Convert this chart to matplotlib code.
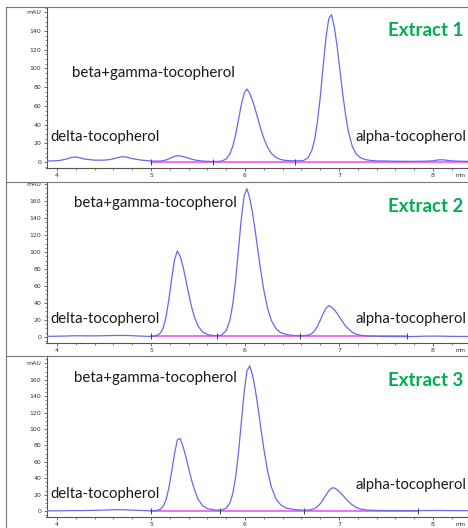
import matplotlib.pyplot as plt
from matplotlib.ticker import MultipleLocator, FixedLocator

# retention time grid (min), shared by the three chromatograms
t = [3.88, 3.95, 4.0, 4.05, 4.1, 4.15, 4.2, 4.25, 4.3, 4.4,
     4.5, 4.55, 4.6, 4.65, 4.7, 4.75, 4.8, 4.9, 5.0, 5.05,
     5.1, 5.13, 5.16, 5.19, 5.22, 5.25, 5.28, 5.31, 5.34, 5.37,
     5.40, 5.43, 5.46, 5.50, 5.55, 5.60, 5.65, 5.70, 5.75, 5.80,
     5.84, 5.87, 5.90, 5.93, 5.96, 5.99, 6.02, 6.05, 6.08, 6.11,
     6.14, 6.17, 6.20, 6.24, 6.28, 6.33, 6.38, 6.44, 6.50, 6.56,
     6.62, 6.67, 6.71, 6.74, 6.77, 6.80, 6.83, 6.86, 6.89, 6.92,
     6.95, 6.98, 7.01, 7.04, 7.07, 7.10, 7.14, 7.18, 7.23, 7.28,
     7.34, 7.40, 7.50, 7.60, 7.70, 7.80, 7.90, 8.00, 8.05, 8.10,
     8.15, 8.20, 8.30, 8.37]

# signal (mAU)
extract1 = [1.0, 1.2, 1.4, 2.0, 3.2, 4.8, 5.4, 4.3, 3.0, 2.0,
            2.0, 2.5, 3.5, 4.8, 5.8, 5.0, 3.6, 2.0, 1.1, 0.9,
            1.1, 1.5, 2.2, 3.4, 4.8, 6.0, 6.7, 6.5, 5.8, 5.0,
            4.1, 3.1, 2.3, 1.6, 1.0, 0.7, 0.6, 0.5, 1.0, 3.2,
            8.7, 16.9, 29.1, 44.8, 61.0, 73.4, 78.0, 73.3, 65.6, 55.8,
            45.1, 34.6, 25.3, 15.6, 9.2, 4.8, 2.6, 1.6, 1.3, 1.3,
            1.5, 4.5, 12.2, 23.5, 43.0, 69.1, 101.1, 131.9, 152.8, 157.4,
            144.3, 123.3, 97.7, 72.3, 50.1, 32.2, 17.1, 8.9, 4.5, 2.6,
            1.6, 1.2, 1.0, 0.8, 0.7, 0.7, 0.8, 1.2, 2.2, 2.4,
            1.8, 1.2, 0.8, 0.7]
extract2 = [0.8, 0.8, 0.9, 1.0, 1.1, 1.3, 1.4, 1.4, 1.3, 1.3,
            1.5, 1.6, 1.7, 1.8, 1.8, 1.7, 1.5, 1.0, 0.6, 1.1,
            4.5, 10.9, 23.6, 44.2, 68.9, 90.9, 101.3, 95.1, 82.9, 67.6,
            51.2, 35.9, 24.0, 12.9, 5.9, 2.9, 1.8, 1.5, 2.2, 7.4,
            20.2, 38.8, 67.0, 102.6, 138.7, 165.8, 174.5, 163.3, 145.7, 123.5,
            99.3, 75.9, 55.1, 33.7, 19.5, 9.7, 5.0, 2.9, 1.9, 1.4,
            1.4, 2.0, 4.0, 7.3, 12.6, 19.5, 27.2, 33.6, 36.8, 35.3,
            32.0, 27.6, 22.6, 17.6, 13.1, 9.4, 5.7, 3.4, 2.0, 1.3,
            0.9, 0.7, 0.5, 0.5, 0.4, 0.6, 0.9, 1.0, 1.0, 0.9,
            0.8, 0.7, 0.6, 0.6]
extract3 = [0.2, 0.2, 0.3, 0.3, 0.4, 0.5, 0.5, 0.5, 0.6, 0.8,
            1.1, 1.3, 1.5, 1.6, 1.5, 1.3, 1.0, 0.6, 0.2, 0.5,
            2.2, 5.9, 13.8, 28.2, 48.4, 69.9, 86.8, 88.4, 78.7, 66.7,
            52.0, 38.2, 26.6, 14.5, 6.3, 3.0, 1.7, 1.1, 1.2, 3.4,
            10.0, 21.4, 41.3, 70.7, 107.5, 144.1, 170.7, 177.0, 165.8, 147.4,
            124.5, 99.7, 75.8, 48.7, 29.2, 14.6, 7.4, 3.5, 2.3, 1.5,
            1.1, 1.2, 1.8, 3.0, 5.3, 8.9, 13.7, 19.4, 24.5, 27.9,
            28.2, 26.0, 22.9, 19.2, 15.3, 11.6, 7.5, 4.5, 2.4, 1.4,
            0.9, 0.7, 0.5, 0.4, 0.4, 0.4, 0.5, 0.6, 0.6, 0.6,
            0.5, 0.5, 0.4, 0.4]

# integration baseline (start, end, level) and peak boundary marks
baselines = [(5.0, 8.37, 0.3), (5.0, 7.72, 0.6), (5.0, 7.84, 0.3)]
marks = [[5.0, 5.66, 6.53], [5.0, 5.705, 6.585, 7.72], [5.0, 5.73, 6.63, 7.84]]

titles = ['Extract 1', 'Extract 2', 'Extract 3']
ylims = [(-6.4, 165.6), (-7.1, 182.4), (-7.3, 189)]
ytop = [160, 180, 180]

W, H = 468, 528
fig = plt.figure(figsize=(W / 100, H / 100), dpi=100)

def box(left, top, right, bottom):
    return [left / W, 1 - bottom / H, (right - left) / W, (bottom - top) / H]

panels = [(7, 168), (182, 343), (356, 517)]
traces = [extract1, extract2, extract3]

# text positions in pixels: (x, y) for beta, delta, alpha, title
label_pos = [
    [(72, 73), (50, 137), (355, 137), (388, 31)],
    [(74, 203), (50, 319), (355, 319), (388, 207)],
    [(74, 378), (50, 494), (355, 485), (388, 380)],
]

def fx(x):
    return x / W

def fy(y):
    return 1 - y / H

for i in range(3):
    top, bottom = panels[i]
    ax = fig.add_axes(box(46.5, top, 468, bottom))
    ax.plot(t, traces[i], color='#6868f0', lw=0.9, zorder=3)
    b0, b1, lev = baselines[i]
    ax.plot([b0, b1], [lev, lev], color='#f048f0', lw=1.1, zorder=2)
    ax.plot(marks[i], [lev] * len(marks[i]), ls='none', marker='|',
            ms=4, mew=0.7, color='#404060', zorder=4)

    ax.set_xlim(3.888, 8.372)
    ax.set_ylim(*ylims[i])
    for s in ['top', 'right']:
        ax.spines[s].set_visible(False)
    for s in ['left', 'bottom']:
        ax.spines[s].set_color('#555555')
        ax.spines[s].set_linewidth(0.8)

    ax.xaxis.set_major_locator(FixedLocator([4, 5, 6, 7, 8]))
    ax.xaxis.set_minor_locator(MultipleLocator(0.2))
    yt = list(range(0, ytop[i] + 1, 20))
    ax.yaxis.set_major_locator(FixedLocator(yt))
    ax.set_yticklabels([str(v) for v in yt[:-1]] + ['mAU'])
    ax.yaxis.set_minor_locator(MultipleLocator(5))
    ax.tick_params(which='major', length=2.2, width=0.6, color='#555555',
                   labelsize=4.5, labelcolor='#333333', pad=1.5)
    ax.tick_params(which='minor', length=1.2, width=0.5, color='#555555')
    ax.tick_params(axis='x', pad=1.2)

    fig.text(fx(456), fy(bottom + 8), 'min', fontsize=4.5, color='#333333',
             va='center', ha='left', family='Liberation Sans')

    lp = label_pos[i]
    fig.text(fx(lp[0][0]), fy(lp[0][1]), 'beta+gamma-tocopherol', fontsize=10.8,
             family='Lato', va='center', color='#1a1a1a')
    fig.text(fx(lp[1][0]), fy(lp[1][1]), 'delta-tocopherol', fontsize=10.7,
             family='Lato', va='center', color='#1a1a1a')
    fig.text(fx(lp[2][0]), fy(lp[2][1]), 'alpha-tocopherol', fontsize=10.6,
             family='Lato', va='center', color='#1a1a1a')
    fig.text(fx(lp[3][0]), fy(lp[3][1]), titles[i], fontsize=13.4,
             family='Lato', weight='bold', va='center', color='#00b050')

# panel frame lines
for y in [7, 182, 356]:
    fig.add_artist(plt.Line2D([fx(6), 1], [fy(y), fy(y)], color='#777777', lw=0.8))
fig.add_artist(plt.Line2D([fx(6), fx(6)], [fy(7), 0], color='#777777', lw=0.8))

plt.rcParams['font.family'] = 'Liberation Sans'
fig.savefig('out.png', dpi=100)
